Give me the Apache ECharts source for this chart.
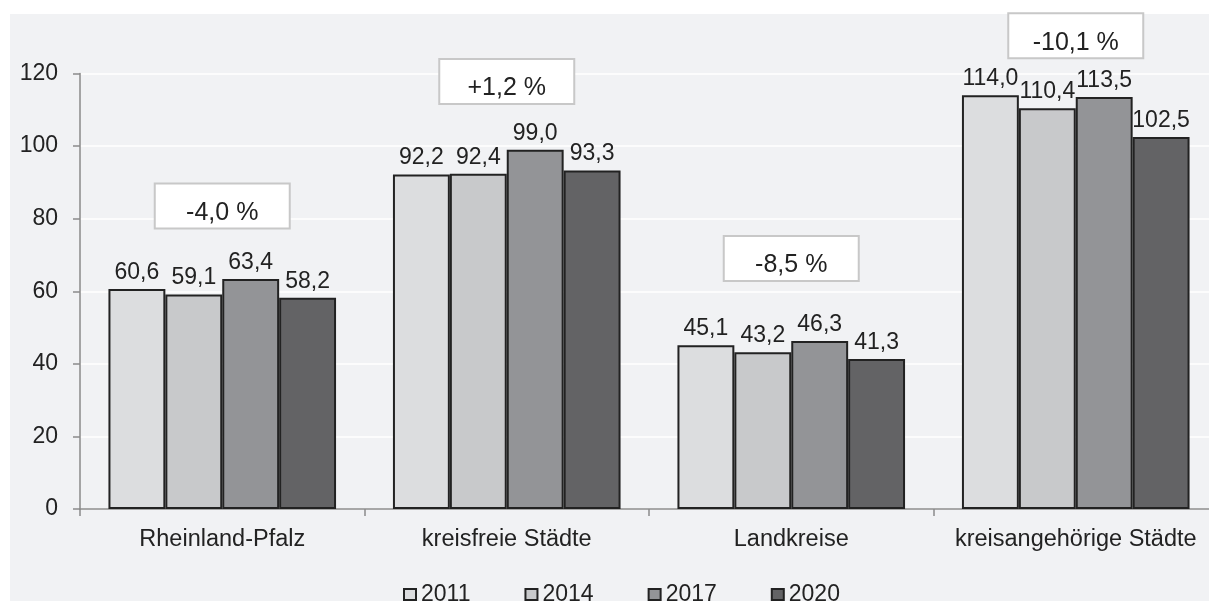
<!DOCTYPE html>
<html>
<head>
<meta charset="utf-8">
<script src="https://cdn.jsdelivr.net/npm/echarts@6/dist/echarts.min.js"></script>
<style>
html,body{margin:0;padding:0;background:#fff;overflow:hidden;width:1209px;height:601px;}
#chart{width:1218px;height:601px;}
</style>
</head>
<body>
<div id="chart"></div>
<script>
var categories = ['Rheinland-Pfalz', 'kreisfreie Städte', 'Landkreise', 'kreisangehörige Städte'];
var years = ['2011', '2014', '2017', '2020'];
var v2011 = [60.6, 92.2, 45.1, 114.0];
var v2014 = [59.1, 92.4, 43.2, 110.4];
var v2017 = [63.4, 99.0, 46.3, 113.5];
var v2020 = [58.2, 93.3, 41.3, 102.5];
var changeLabels = ['-4,0 %', '+1,2 %', '-8,5 %', '-10,1 %'];
var changeY = [83.5, 117.8, 69, 130.4];
var yTicks = [0, 20, 40, 60, 80, 100, 120];

var colors = ['#dcdddf', '#c8c9cb', '#939497', '#636365'];
var values = [v2011, v2014, v2017, v2020];
var FONT = '"Liberation Sans", Arial, sans-serif';

function fmt(v) { return v.toFixed(1).replace('.', ','); }

var series = years.map(function (y, i) {
  return {
    name: y,
    type: 'bar',
    barGap: '0%',
    barCategoryGap: '20%',
    data: values[i],
    itemStyle: { color: colors[i], borderColor: '#222', borderWidth: 2 },
    label: {
      show: true, position: 'top', distance: 5,
      color: '#222', fontFamily: FONT, fontSize: 23,
      formatter: function (p) { return fmt(p.value); }
    }
  };
});

series.push({
  type: 'custom',
  name: 'change',
  clip: false,
  z: 5,
  data: changeLabels.map(function (t, i) { return [i, changeY[i]]; }),
  renderItem: function (params, api) {
    var p = api.coord([api.value(0), api.value(1)]);
    var w = 135, h = 45;
    return {
      type: 'group',
      children: [
        { type: 'rect', shape: { x: p[0] - w / 2, y: p[1] - h / 2, width: w, height: h },
          style: { fill: '#ffffff', stroke: '#c8c8c8', lineWidth: 2 } },
        { type: 'text', x: p[0], y: p[1] + 7,
          style: { text: changeLabels[params.dataIndex], fill: '#222', font: '25px ' + FONT,
                   align: 'center', verticalAlign: 'middle' } }
      ]
    };
  }
});

var chart = echarts.init(document.getElementById('chart'));
chart.setOption({
  backgroundColor: '#ffffff',
  animation: false,
  graphic: [{
    type: 'rect', left: 10, top: 14, z: -100, silent: true,
    shape: { width: 1210, height: 600 },
    style: { fill: '#f1f2f4' }
  }],
  grid: { left: 80, top: 73.5, right: 0, bottom: 92, containLabel: false },
  legend: {
    data: years,
    left: 398, top: 578,
    itemWidth: 12, itemHeight: 11, itemGap: 54,
    icon: 'rect',
    textStyle: { color: '#222', fontFamily: FONT, fontSize: 23 }
  },
  xAxis: {
    type: 'category',
    data: categories,
    axisLine: { lineStyle: { color: '#8a8a8a', width: 1.5 } },
    axisTick: { show: true, length: 7, lineStyle: { color: '#8a8a8a', width: 1.5 } },
    axisLabel: { color: '#222', fontFamily: FONT, fontSize: 23.5, margin: 19, interval: 0 }
  },
  yAxis: {
    type: 'value',
    min: 0, max: 120, interval: 20,
    axisLine: { show: true, lineStyle: { color: '#8a8a8a', width: 1.5 } },
    axisTick: { show: true, length: 7, lineStyle: { color: '#8a8a8a', width: 1.5 } },
    axisLabel: { color: '#222', fontFamily: FONT, fontSize: 23, margin: 22,
      formatter: function (v) { return yTicks.indexOf(v) >= 0 ? String(v) : ''; } },
    splitLine: { show: true, lineStyle: { color: '#ffffff', width: 1.5 } }
  },
  series: series
});
</script>
</body>
</html>
